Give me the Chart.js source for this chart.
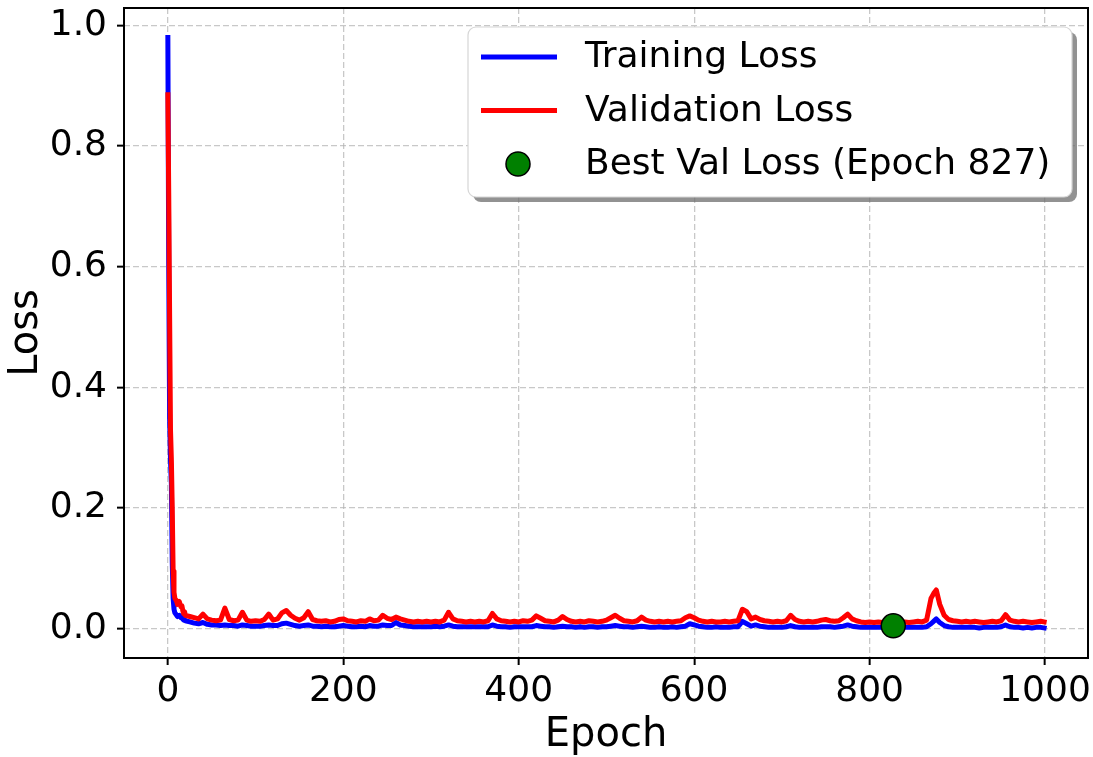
<!DOCTYPE html>
<html>
<head>
<meta charset="utf-8">
<script src="https://cdn.jsdelivr.net/npm/chart.js@4.4.1/dist/chart.umd.min.js"></script>
<style>
  html, body { margin: 0; padding: 0; background: #ffffff; }
  #wrap { width: 1093px; height: 757px; position: relative; }
  canvas { display: block; }
</style>
</head>
<body>
<div id="wrap"><canvas id="lossChart" width="1093" height="757"></canvas></div>
<script>
// Epochs at which the losses are recorded
const epochs = [
  0, 1, 2, 3, 4, 5, 6, 7, 8, 9,
  10, 11, 12, 13, 14, 15, 16, 17, 18, 19,
  20, 25, 30, 35, 40, 45, 50, 55, 60, 65,
  70, 75, 80, 85, 90, 95, 100, 105, 110, 115,
  120, 125, 130, 135, 140, 145, 150, 155, 160, 165,
  170, 175, 180, 185, 190, 195, 200, 205, 210, 215,
  220, 225, 230, 235, 240, 245, 250, 255, 260, 265,
  270, 275, 280, 285, 290, 295, 300, 305, 310, 315,
  320, 325, 330, 335, 340, 345, 350, 355, 360, 365,
  370, 375, 380, 385, 390, 395, 400, 405, 410, 415,
  420, 425, 430, 435, 440, 445, 450, 455, 460, 465,
  470, 475, 480, 485, 490, 495, 500, 505, 510, 515,
  520, 525, 530, 535, 540, 545, 550, 555, 560, 565,
  570, 575, 580, 585, 590, 595, 600, 605, 610, 615,
  620, 625, 630, 635, 640, 645, 650, 655, 660, 665,
  670, 675, 680, 685, 690, 695, 700, 705, 710, 715,
  720, 725, 730, 735, 740, 745, 750, 755, 760, 765,
  770, 775, 780, 785, 790, 795, 800, 805, 810, 815,
  820, 825, 827, 830, 835, 840, 845, 850, 855, 860,
  865, 870, 873, 876, 880, 885, 890, 895, 900, 905,
  910, 915, 920, 925, 930, 935, 940, 945, 950, 955,
  960, 965, 970, 975, 980, 985, 990, 995, 999
];

const trainLoss = [
  0.980, 0.600, 0.350, 0.280, 0.240, 0.110, 0.050, 0.032, 0.026, 0.024,
  0.022, 0.020, 0.021, 0.022, 0.020, 0.018, 0.019, 0.016, 0.014, 0.015,
  0.013, 0.011, 0.009, 0.008, 0.010, 0.007, 0.006, 0.006, 0.005, 0.006,
  0.005, 0.005, 0.004, 0.006, 0.005, 0.004, 0.004, 0.004, 0.005, 0.006,
  0.005, 0.005, 0.008, 0.009, 0.007, 0.005, 0.004, 0.005, 0.006, 0.004,
  0.004, 0.003, 0.004, 0.003, 0.003, 0.004, 0.005, 0.004, 0.003, 0.003,
  0.004, 0.003, 0.005, 0.004, 0.004, 0.006, 0.005, 0.005, 0.010, 0.006,
  0.005, 0.004, 0.003, 0.003, 0.003, 0.003, 0.003, 0.004, 0.003, 0.004,
  0.006, 0.004, 0.003, 0.003, 0.003, 0.003, 0.003, 0.003, 0.003, 0.003,
  0.006, 0.004, 0.003, 0.003, 0.002, 0.003, 0.003, 0.003, 0.003, 0.003,
  0.005, 0.004, 0.003, 0.003, 0.002, 0.003, 0.004, 0.003, 0.003, 0.002,
  0.003, 0.002, 0.003, 0.003, 0.002, 0.003, 0.003, 0.004, 0.005, 0.004,
  0.003, 0.003, 0.002, 0.003, 0.004, 0.003, 0.002, 0.002, 0.003, 0.002,
  0.002, 0.003, 0.002, 0.003, 0.004, 0.008, 0.006, 0.004, 0.003, 0.002,
  0.002, 0.003, 0.002, 0.002, 0.002, 0.003, 0.003, 0.012, 0.008, 0.004,
  0.006, 0.004, 0.003, 0.002, 0.002, 0.002, 0.002, 0.003, 0.005, 0.003,
  0.002, 0.002, 0.002, 0.002, 0.002, 0.003, 0.003, 0.003, 0.002, 0.003,
  0.004, 0.006, 0.004, 0.003, 0.002, 0.002, 0.002, 0.002, 0.002, 0.002,
  0.002, 0.002, 0.002, 0.002, 0.002, 0.002, 0.002, 0.002, 0.002, 0.002,
  0.003, 0.008, 0.012, 0.016, 0.010, 0.005, 0.003, 0.002, 0.002, 0.002,
  0.002, 0.002, 0.002, 0.001, 0.002, 0.002, 0.002, 0.002, 0.003, 0.006,
  0.003, 0.002, 0.002, 0.001, 0.002, 0.001, 0.002, 0.002, 0.001
];

const valLoss = [
  0.885, 0.720, 0.520, 0.330, 0.280, 0.200, 0.095, 0.060, 0.050, 0.048,
  0.045, 0.040, 0.042, 0.045, 0.040, 0.036, 0.038, 0.030, 0.025, 0.028,
  0.022, 0.020, 0.018, 0.016, 0.024, 0.016, 0.014, 0.013, 0.014, 0.034,
  0.015, 0.013, 0.014, 0.027, 0.014, 0.012, 0.013, 0.012, 0.015, 0.024,
  0.014, 0.016, 0.026, 0.030, 0.022, 0.017, 0.014, 0.018, 0.028, 0.015,
  0.013, 0.012, 0.013, 0.011, 0.012, 0.015, 0.016, 0.013, 0.012, 0.011,
  0.013, 0.012, 0.016, 0.013, 0.014, 0.022, 0.017, 0.015, 0.019, 0.016,
  0.014, 0.012, 0.011, 0.012, 0.011, 0.012, 0.011, 0.012, 0.011, 0.014,
  0.027, 0.016, 0.013, 0.012, 0.011, 0.012, 0.011, 0.012, 0.011, 0.013,
  0.025, 0.016, 0.013, 0.012, 0.011, 0.012, 0.011, 0.013, 0.012, 0.014,
  0.021, 0.017, 0.013, 0.012, 0.011, 0.014, 0.020, 0.015, 0.012, 0.011,
  0.012, 0.011, 0.013, 0.012, 0.011, 0.012, 0.014, 0.018, 0.022, 0.017,
  0.013, 0.012, 0.011, 0.013, 0.019, 0.014, 0.012, 0.011, 0.012, 0.011,
  0.012, 0.011, 0.012, 0.013, 0.018, 0.021, 0.018, 0.014, 0.012, 0.011,
  0.012, 0.011, 0.011, 0.012, 0.011, 0.012, 0.013, 0.032, 0.028, 0.016,
  0.019, 0.015, 0.013, 0.012, 0.011, 0.012, 0.011, 0.013, 0.022, 0.015,
  0.012, 0.011, 0.012, 0.011, 0.012, 0.014, 0.015, 0.013, 0.012, 0.013,
  0.018, 0.024, 0.016, 0.013, 0.011, 0.010, 0.011, 0.010, 0.011, 0.010,
  0.009, 0.006, 0.0045, 0.007, 0.010, 0.011, 0.010, 0.011, 0.012, 0.011,
  0.014, 0.050, 0.058, 0.064, 0.040, 0.022, 0.015, 0.013, 0.012, 0.011,
  0.012, 0.011, 0.012, 0.011, 0.010, 0.011, 0.012, 0.011, 0.013, 0.023,
  0.014, 0.012, 0.011, 0.012, 0.011, 0.010, 0.011, 0.012, 0.011
];

const xTicks = [0, 200, 400, 600, 800, 1000];
const yTicks = [0.0, 0.2, 0.4, 0.6, 0.8, 1.0];

const bestEpoch = 827;
const bestLoss = valLoss[epochs.indexOf(bestEpoch)];

const seriesLabels = ['Training Loss', 'Validation Loss', 'Best Val Loss (Epoch ' + bestEpoch + ')'];

const FONT = '"DejaVu Sans", "Liberation Sans", sans-serif';

function points(values) {
  return epochs.map((e, i) => ({ x: e, y: values[i] }));
}

// Black frame round the plotting area
const framePlugin = {
  id: 'frame',
  afterDatasetsDraw(chart) {
    const { ctx, chartArea: a } = chart;
    ctx.save();
    ctx.setLineDash([]);
    ctx.strokeStyle = '#000000';
    ctx.lineWidth = 2;
    ctx.strokeRect(a.left, a.top, a.right - a.left, a.bottom - a.top);
    ctx.restore();
  }
};

function roundRect(ctx, x, y, w, h, r) {
  ctx.beginPath();
  ctx.moveTo(x + r, y);
  ctx.lineTo(x + w - r, y);
  ctx.arcTo(x + w, y, x + w, y + r, r);
  ctx.lineTo(x + w, y + h - r);
  ctx.arcTo(x + w, y + h, x + w - r, y + h, r);
  ctx.lineTo(x + r, y + h);
  ctx.arcTo(x, y + h, x, y + h - r, r);
  ctx.lineTo(x, y + r);
  ctx.arcTo(x, y, x + r, y, r);
  ctx.closePath();
}

// Legend box with a drop shadow in the upper right of the plot
const boxLegendPlugin = {
  id: 'boxLegend',
  afterDraw(chart) {
    const { ctx, chartArea: a } = chart;
    const w = 604, h = 170;
    const x = a.right - 16 - w;
    const y = a.top + 19;
    ctx.save();
    ctx.setLineDash([]);
    // shadow
    roundRect(ctx, x + 5, y + 5, w, h, 8);
    ctx.fillStyle = 'rgba(110,110,110,0.75)';
    ctx.fill();
    // box
    roundRect(ctx, x, y, w, h, 8);
    ctx.fillStyle = '#ffffff';
    ctx.fill();
    ctx.strokeStyle = '#d6d6d6';
    ctx.lineWidth = 1.2;
    ctx.stroke();

    const rowGap = 53.5;
    ctx.font = '36px ' + FONT;
    ctx.textBaseline = 'middle';
    ctx.textAlign = 'left';
    chart.data.datasets.forEach((ds, i) => {
      const cy = y + 30 + i * rowGap;
      if (ds.showLine === false) {
        ctx.beginPath();
        ctx.arc(x + 50, cy, 12, 0, Math.PI * 2);
        ctx.fillStyle = ds.pointBackgroundColor;
        ctx.fill();
        ctx.lineWidth = 1.5;
        ctx.strokeStyle = ds.pointBorderColor;
        ctx.stroke();
      } else {
        ctx.beginPath();
        ctx.moveTo(x + 13, cy);
        ctx.lineTo(x + 89, cy);
        ctx.lineWidth = 5;
        ctx.lineCap = 'butt';
        ctx.strokeStyle = ds.borderColor;
        ctx.stroke();
      }
      ctx.fillStyle = '#000000';
      ctx.fillText(ds.label, x + 117, cy + 1);
    });
    ctx.restore();
  }
};

const gridCommon = {
  color: 'rgba(176,176,176,0.7)',
  lineWidth: 1.3,
  tickColor: '#000000',
  tickWidth: 2,
  tickLength: 7,
  tickBorderDash: []
};

new Chart(document.getElementById('lossChart'), {
  type: 'line',
  data: {
    datasets: [
      {
        label: seriesLabels[0],
        data: points(trainLoss),
        borderColor: '#0000ff',
        borderWidth: 5,
        pointRadius: 0,
        tension: 0,
        borderJoinStyle: 'round',
        borderCapStyle: 'square',
        order: 2
      },
      {
        label: seriesLabels[1],
        data: points(valLoss),
        borderColor: '#ff0000',
        borderWidth: 5,
        pointRadius: 0,
        tension: 0,
        borderJoinStyle: 'round',
        borderCapStyle: 'square',
        order: 1
      },
      {
        label: seriesLabels[2],
        data: [{ x: bestEpoch, y: bestLoss }],
        showLine: false,
        pointRadius: 12,
        pointBackgroundColor: '#008000',
        pointBorderColor: '#000000',
        pointBorderWidth: 1.5,
        order: 0
      }
    ]
  },
  options: {
    responsive: false,
    animation: false,
    events: [],
    layout: { autoPadding: false, padding: { left: 0, right: 5, top: 8, bottom: 0 } },
    plugins: {
      legend: { display: false },
      tooltip: { enabled: false }
    },
    scales: {
      x: {
        type: 'linear',
        min: -50,
        max: 1049,
        afterBuildTicks(s) { s.ticks = xTicks.map(v => ({ value: v })); },
        afterFit(s) { s.height = 99; s.paddingLeft = 0; s.paddingRight = 0; },
        ticks: {
          autoSkip: false,
          maxRotation: 0,
          padding: 5,
          color: '#000000',
          font: { family: FONT, size: 36 },
          callback: v => String(v)
        },
        grid: gridCommon,
        border: { display: false, dash: [6, 3] },
        title: {
          display: true,
          text: 'Epoch',
          color: '#000000',
          font: { family: FONT, size: 40, lineHeight: 1.05 },
          padding: { top: 0, bottom: 0 }
        }
      },
      y: {
        type: 'linear',
        min: -0.0488,
        max: 1.0288,
        afterBuildTicks(s) { s.ticks = yTicks.map(v => ({ value: v })); },
        afterFit(s) { s.width = 124; s.paddingTop = 0; s.paddingBottom = 0; },
        ticks: {
          autoSkip: false,
          padding: 10,
          color: '#000000',
          font: { family: FONT, size: 36 },
          callback: v => Number(v).toFixed(1)
        },
        grid: gridCommon,
        border: { display: false, dash: [6, 3] },
        title: {
          display: true,
          text: 'Loss',
          color: '#000000',
          font: { family: FONT, size: 40, lineHeight: 1.2 },
          padding: { top: 3, bottom: 0 }
        }
      }
    }
  },
  plugins: [framePlugin, boxLegendPlugin]
});
</script>
</body>
</html>
